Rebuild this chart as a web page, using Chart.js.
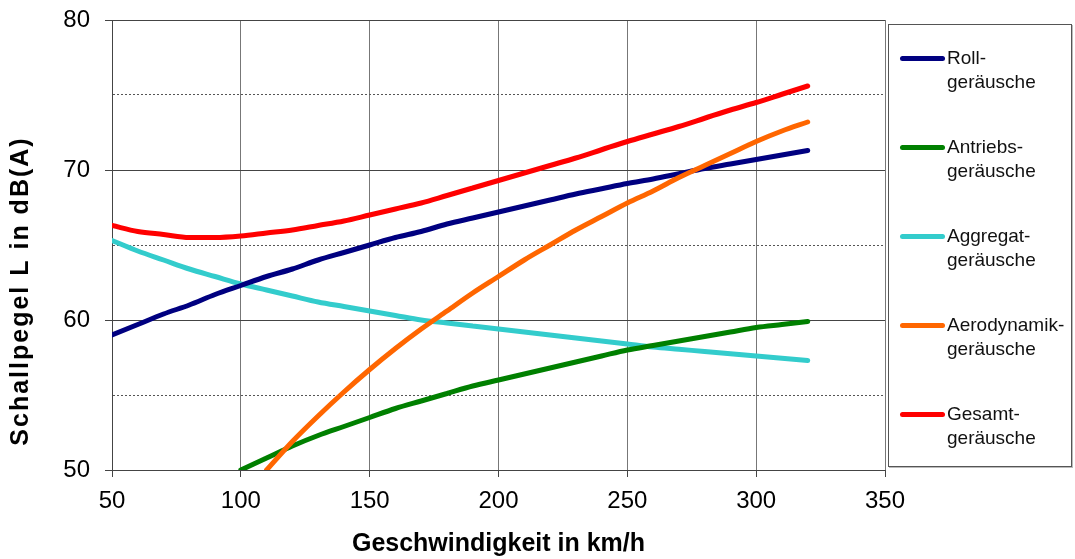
<!DOCTYPE html>
<html><head><meta charset="utf-8">
<script src="https://cdn.jsdelivr.net/npm/chart.js@4/dist/chart.umd.min.js"></script>
<style>
html,body{margin:0;padding:0;background:#fff;}
#wrap{position:relative;width:1075px;height:559px;}
#legend{position:absolute;left:888px;top:24px;width:184px;height:443px;border:1px solid #555;box-shadow:1px 1px 0 #bbb;box-sizing:border-box;font-family:"Liberation Sans",Arial,sans-serif;font-size:19px;line-height:24px;color:#111;background:#fff;}
.item{position:absolute;left:11px;width:170px;height:48px;}
.sw{position:absolute;left:0;top:10px;width:45px;height:5px;border-radius:3px;}
.tx{position:absolute;left:47px;top:0;white-space:pre;}
</style>
</head><body>
<div id="wrap"><canvas id="c" width="1075" height="559"></canvas><div id="legend"></div></div>
<script>
const speeds = [50,60,70,80,90,100,110,120,130,140,150,160,170,180,190,200,210,220,230,240,250,260,270,280,290,300,310,320];
const roll = [59.0,59.7,60.4,61.0,61.7,62.3,62.9,63.4,64.0,64.5,65.0,65.5,65.9,66.4,66.8,67.2,67.6,68.0,68.4,68.75,69.1,69.4,69.75,70.1,70.4,70.7,71.0,71.3];
const antrieb = [null,null,null,null,null,50.0,50.8,51.6,52.3,52.9,53.5,54.1,54.6,55.1,55.6,56.0,56.4,56.8,57.2,57.6,58.0,58.3,58.6,58.9,59.2,59.5,59.7,59.9];
const aggregat = [65.3,64.6,64.0,63.4,62.9,62.4,62.0,61.6,61.2,60.9,60.6,60.3,60.0,59.8,59.6,59.4,59.2,59.0,58.8,58.6,58.4,58.2,58.05,57.9,57.75,57.6,57.45,57.3];
const aero = [null,null,null,null,null,null,50.0,51.9,53.6,55.2,56.7,58.1,59.4,60.6,61.8,62.9,64.0,65.0,66.0,66.9,67.8,68.6,69.5,70.3,71.1,71.9,72.6,73.2];
const gesamt = [66.3,65.9,65.7,65.5,65.5,65.6,65.8,66.0,66.3,66.6,67.0,67.4,67.8,68.3,68.8,69.3,69.8,70.3,70.8,71.35,71.9,72.4,72.9,73.45,74.0,74.5,75.05,75.6];
const seriesNames = ['Roll-\ngeräusche','Antriebs-\ngeräusche','Aggregat-\ngeräusche','Aerodynamik-\ngeräusche','Gesamt-\ngeräusche'];
const seriesColors = ['#000080','#008000','#33CCCC','#FF6600','#FF0000'];
const seriesValues = [roll, antrieb, aggregat, aero, gesamt];
const drawOrder = [4,3,5,2,1];
const xTitle = 'Geschwindigkeit in km/h';
const yTitle = 'Schallpegel L in dB(A)';

const FONT = '"Liberation Sans", Arial, sans-serif';

const datasets = seriesValues.map((vals, i) => ({
  label: seriesNames[i],
  data: speeds.map((s, j) => ({x: s, y: vals[j]})).filter(p => p.y !== null),
  borderColor: seriesColors[i],
  backgroundColor: seriesColors[i],
  borderWidth: 5,
  pointRadius: 0,
  borderCapStyle: 'round',
  cubicInterpolationMode: 'monotone',
  fill: false,
  order: drawOrder[i]
}));

const isMinor = ctx => ctx && ctx.tick && (Math.round(ctx.tick.value) % 10 !== 0);

const yTitlePlugin = {
  id: 'yTitlePlugin',
  afterDraw(chart) {
    const ctx = chart.ctx;
    ctx.save();
    ctx.translate(21, 291);
    ctx.rotate(-Math.PI / 2);
    ctx.font = 'bold 25px ' + FONT;
    try { ctx.letterSpacing = '2px'; } catch (e) {}
    ctx.fillStyle = '#000';
    ctx.textAlign = 'center';
    ctx.textBaseline = 'middle';
    ctx.fillText(yTitle, 0, 0);
    ctx.restore();
  }
};

new Chart(document.getElementById('c'), {
  type: 'line',
  data: { datasets },
  plugins: [yTitlePlugin],
  options: {
    responsive: false,
    animation: false,
    devicePixelRatio: 1,
    layout: { padding: { left: 0, right: 190, top: 20, bottom: 0 } },
    plugins: { legend: { display: false }, tooltip: { enabled: false } },
    scales: {
      x: {
        type: 'linear', min: 50, max: 350,
        afterFit: s => { s.height = 89; s.paddingLeft = 0; s.paddingRight = 0; },
        ticks: { stepSize: 50, color: '#000', font: { family: FONT, size: 24 }, padding: 10, maxRotation: 0, autoSkip: false },
        grid: { color: '#777', lineWidth: 1, tickLength: 7, tickColor: '#444' },
        border: { color: '#444', width: 1 },
        title: { display: true, text: xTitle, color: '#000', font: { family: FONT, size: 25, weight: 'bold' }, padding: { top: 0, bottom: 0 } }
      },
      y: {
        min: 50, max: 80,
        afterFit: s => { s.width = 112; s.paddingTop = 0; s.paddingBottom = 0; },
        ticks: { stepSize: 5, autoSkip: false, color: '#000', font: { family: FONT, size: 24 }, padding: 15,
          callback: v => (Math.round(v) % 10 === 0 ? String(v) : '') },
        grid: { color: ctx => isMinor(ctx) ? '#555' : '#444', lineWidth: 1, tickLength: 7,
          tickColor: ctx => isMinor(ctx) ? 'rgba(0,0,0,0)' : '#444' },
        border: { color: '#444', width: 1, dash: ctx => isMinor(ctx) ? [2, 2] : [] },
        title: { display: false }
      }
    }
  }
});

const legend = document.getElementById('legend');
seriesNames.forEach((name, i) => {
  const it = document.createElement('div');
  it.className = 'item';
  it.style.top = (21 + i * 89) + 'px';
  const sw = document.createElement('div');
  sw.className = 'sw';
  sw.style.background = seriesColors[i];
  const tx = document.createElement('div');
  tx.className = 'tx';
  tx.textContent = name;
  it.appendChild(sw); it.appendChild(tx);
  legend.appendChild(it);
});
</script>
</body></html>
